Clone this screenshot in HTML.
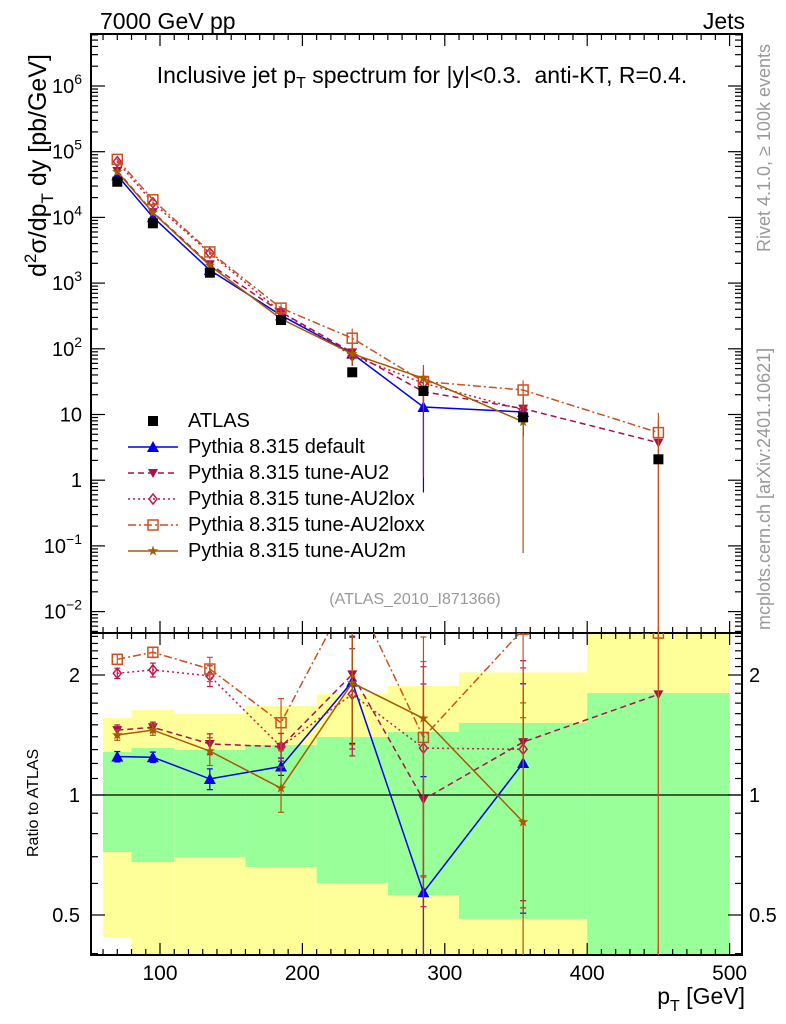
<!DOCTYPE html>
<html><head><meta charset="utf-8">
<style>
html,body{margin:0;padding:0;background:#fff;overflow:hidden;width:786px;height:1024px;}
svg{display:block;font-family:"Liberation Sans",sans-serif;overflow:hidden;}
</style></head>
<body>
<svg id="chart" width="786" height="1024" viewBox="0 0 786 1024" xmlns="http://www.w3.org/2000/svg">
<defs>
<clipPath id="clipU"><rect x="91" y="34" width="651" height="599"/></clipPath>
<clipPath id="clipL"><rect x="91" y="633" width="651" height="322"/></clipPath>
</defs>
<g id="bands" clip-path="url(#clipL)"></g>
<g id="axes"></g>
<g id="seriesU" clip-path="url(#clipU)"></g>
<g id="seriesL" clip-path="url(#clipL)"></g>
<g id="texts">
<text x="100" y="29" font-size="23">7000 GeV pp</text>
<text x="745" y="29" font-size="23" text-anchor="end">Jets</text>
<text x="422" y="83" font-size="23" text-anchor="middle" xml:space="preserve">Inclusive jet p<tspan font-size="16" dy="5">T</tspan><tspan dy="-5"> spectrum for |y|&lt;0.3.  anti-KT, R=0.4.</tspan></text>
<text x="415" y="604" font-size="16" fill="#999" text-anchor="middle">(ATLAS_2010_I871366)</text>
<text transform="translate(770,252) rotate(-90)" font-size="18" fill="#999">Rivet 4.1.0, ≥ 100k events</text>
<text transform="translate(770,630) rotate(-90)" font-size="18" fill="#999">mcplots.cern.ch [arXiv:2401.10621]</text>
<text transform="translate(46,277) rotate(-90)" font-size="25">d<tspan font-size="17" dy="-10">2</tspan><tspan dy="10">σ/dp</tspan><tspan font-size="17" dy="7">T</tspan><tspan dy="-7"> dy [pb/GeV]</tspan></text>
<text transform="translate(38,857) rotate(-90)" font-size="16">Ratio to ATLAS</text>
<text x="745" y="1004" font-size="23" text-anchor="end">p<tspan font-size="16" dy="7">T</tspan><tspan dy="-7"> [GeV]</tspan></text>
</g>
<g id="legend"></g>
</svg>
<script>
const xCenters = [70, 95, 135, 185, 235, 285, 355, 450];
const binEdges = [60, 80, 110, 160, 210, 260, 310, 400, 500];
const atlasData = [34900, 8130, 1440, 274, 43.9, 22.8, 9.06, 2.08];
const bandYellowHi = [1.561, 1.634, 1.597, 1.672, 1.791, 1.877, 2.03, 3.0];
const bandGreenHi = [1.282, 1.312, 1.297, 1.335, 1.398, 1.439, 1.516, 1.802];
const bandGreenLo = [0.719, 0.679, 0.699, 0.660, 0.601, 0.561, 0.489, 0.3];
const bandYellowLo = [0.440, 0.3, 0.3, 0.3, 0.3, 0.3, 0.3, 0.3];
const mcDefault = [43555, 10114, 1580, 323, 84.5, 13.0, 10.9];
const mcAU2 = [50780, 12024, 1934, 362, 88.1, 22.2, 12.3, 3.72];
const mcAU2lox = [70500, 16750, 2866, 362, 78.6, 29.9, 11.8];
const mcAU2loxx = [76430, 18540, 2981, 416, 145, 31.8, 23.6, 5.3];
const mcAU2m = [49350, 11830, 1856, 285, 83.9, 35.5, 7.75];
const errDefault = [0.03, 0.03, 0.06, 0.05, 0.3, 0.95, 0.58];
const errAU2 = [0.03, 0.03, 0.06, 0.08, 0.35, 0.95, 0.6, 1.2];
const errAU2lox = [0.03, 0.04, 0.06, 0.08, 0.3, 0.6, 0.6];
const errAU2loxx = [0.03, 0.03, 0.07, 0.15, 0.4, 0.55, 0.4, 1.0];
const errAU2m = [0.03, 0.03, 0.08, 0.13, 0.3, 0.6, 0.99];
const xTickLabels = ["100", "200", "300", "400", "500"];
const yTickExps = [-2, -1, 0, 1, 2, 3, 4, 5, 6];
const ratioTickLabels = ["0.5", "1", "2"];

const NS = "http://www.w3.org/2000/svg";
const L = 91, R = 742, TU = 34, BU = 633, TL = 633, BL = 955;
function xs(v){ return 160 + (v - 100) * 1.424; }
function yu(v){ return 86 + (6 - Math.log10(v)) * 65.7; }
function yr(r){ return 795 - Math.log10(r) * 398.6; }
function mk(tag, attrs, parent){ const e = document.createElementNS(NS, tag); for (const k in attrs) e.setAttribute(k, attrs[k]); parent.appendChild(e); return e; }

const axes = document.getElementById('axes');
const bandsG = document.getElementById('bands');
for (let i = 0; i < bandYellowHi.length; i++) {
  const x0 = xs(binEdges[i]), x1 = xs(binEdges[i+1]);
  const yb = mk('rect', {x:x0, y:yr(bandYellowHi[i]), width:x1-x0, height:yr(bandYellowLo[i])-yr(bandYellowHi[i]), fill:'#ffff99'}, bandsG);
  
  
  const gb = mk('rect', {x:x0, y:yr(bandGreenHi[i]), width:x1-x0, height:yr(bandGreenLo[i])-yr(bandGreenHi[i]), fill:'#99ff99'}, bandsG);
  
  
}
mk('rect', {x:L, y:TU, width:R-L, height:BU-TU, fill:'none', stroke:'#000', 'stroke-width':2}, axes);
mk('rect', {x:L, y:TL, width:R-L, height:BL-TL, fill:'none', stroke:'#000', 'stroke-width':2}, axes);
mk('line', {x1:L, x2:R, y1:yr(1), y2:yr(1), stroke:'#000', 'stroke-width':1.2}, axes);
for (let v = 60; v <= 500; v += 10) {
  const major = v % 100 === 0, len = major ? 12 : 6, x = xs(v);
  [[TU,1],[BU,-1],[TL,1],[BL,-1]].forEach(([y,d]) => mk('line', {x1:x, x2:x, y1:y, y2:y + d*len, stroke:'#000', 'stroke-width':1.2}, axes));
}
xTickLabels.forEach(t => {
  const e = mk('text', {x:xs(+t), y:980, 'font-size':21, 'text-anchor':'middle'}, axes);
  e.textContent = t;
  
  
});
for (let p = -3; p <= 6; p++) {
  for (let m = 1; m <= 9; m++) {
    const v = m * Math.pow(10, p), y = yu(v);
    if (y < TU || y > BU) continue;
    const len = m === 1 ? 14 : 7;
    mk('line', {x1:L, x2:L+len, y1:y, y2:y, stroke:'#000', 'stroke-width':1.2}, axes);
    mk('line', {x1:R, x2:R-len, y1:y, y2:y, stroke:'#000', 'stroke-width':1.2}, axes);
  }
}
yTickExps.forEach(p => {
  const y = yu(Math.pow(10, p)) + 7;
  const e = mk('text', {x:82, y:y, 'font-size':20, 'text-anchor':'end'}, axes);
  
  
  if (p === 0) e.textContent = '1';
  else if (p === 1) e.textContent = '10';
  else { e.innerHTML = '10<tspan font-size="14" dy="-9">' + (p < 0 ? '−' + (-p) : p) + '</tspan>'; }
});
for (let r = 0.4; r <= 2.55; r += 0.1) {
  const rr = Math.round(r*10)/10, y = yr(rr);
  if (y < TL || y > BL) continue;
  const major = (rr === 0.5 || rr === 1 || rr === 2);
  const len = major ? 14 : 7;
  mk('line', {x1:L, x2:L+len, y1:y, y2:y, stroke:'#000', 'stroke-width':1.2}, axes);
  mk('line', {x1:R, x2:R-len, y1:y, y2:y, stroke:'#000', 'stroke-width':1.2}, axes);
}
ratioTickLabels.forEach(t => {
  const y = yr(+t) + 7;
  const a = mk('text', {x:80, y:y, 'font-size':20, 'text-anchor':'end'}, axes); a.textContent = t;
  
  
  const b = mk('text', {x:749, y:y, 'font-size':20}, axes); b.textContent = t;
  
  
});

function marker(g, type, x, y, color){
  let e;
  if (type === 'square') e = mk('rect', {x:x-5, y:y-5, width:10, height:10, fill:'#000'}, g);
  else if (type === 'up') e = mk('polygon', {points:`${x},${y-6} ${x-6},${y+5} ${x+6},${y+5}`, fill:color}, g);
  else if (type === 'down') e = mk('polygon', {points:`${x},${y+5} ${x-5},${y-4} ${x+5},${y-4}`, fill:color}, g);
  else if (type === 'diamond') e = mk('polygon', {points:`${x},${y-5} ${x-4},${y} ${x},${y+5} ${x+4},${y}`, fill:'none', stroke:color, 'stroke-width':1.5}, g);
  else if (type === 'osquare') e = mk('rect', {x:x-5, y:y-5, width:10, height:10, fill:'none', stroke:color, 'stroke-width':1.5}, g);
  else if (type === 'star') {
    let pts = [];
    for (let k = 0; k < 10; k++) { const a = -Math.PI/2 + k*Math.PI/5, rr = k%2 ? 2.2 : 5.5; pts.push((x+rr*Math.cos(a)).toFixed(1)+','+(y+rr*Math.sin(a)).toFixed(1)); }
    e = mk('polygon', {points:pts.join(' '), fill:color}, g);
  }
  return e;
}
const series = [
  {name:'pythia-default', label:'Pythia 8.315 default', vals:mcDefault, err:errDefault, color:'#0000ee', dash:'', m:'up'},
  {name:'pythia-au2', label:'Pythia 8.315 tune-AU2', vals:mcAU2, err:errAU2, color:'#a8104e', dash:'6,4', m:'down'},
  {name:'pythia-au2lox', label:'Pythia 8.315 tune-AU2lox', vals:mcAU2lox, err:errAU2lox, color:'#c01a50', dash:'2,3', m:'diamond'},
  {name:'pythia-au2loxx', label:'Pythia 8.315 tune-AU2loxx', vals:mcAU2loxx, err:errAU2loxx, color:'#cc5020', dash:'8,3,2,3', m:'osquare'},
  {name:'pythia-au2m', label:'Pythia 8.315 tune-AU2m', vals:mcAU2m, err:errAU2m, color:'#a85a00', dash:'', m:'star'}
];
function clampY(y, top, bot){ return Math.max(top, Math.min(bot, y)); }
const gU = document.getElementById('seriesU'), gL = document.getElementById('seriesL');
series.forEach(s => {
  const su = mk('g', {}, gU);
  
  
  const sl = mk('g', {}, gL);
  
  
  const ptsU = s.vals.map((v,i) => xs(xCenters[i]).toFixed(1)+','+yu(v).toFixed(1)).join(' ');
  const ratios = s.vals.map((v,i) => v / atlasData[i]);
  const ptsL = ratios.map((r,i) => xs(xCenters[i]).toFixed(1)+','+yr(r).toFixed(1)).join(' ');
  const la = {fill:'none', stroke:s.color, 'stroke-width':1.5};
  if (s.dash) la['stroke-dasharray'] = s.dash;
  mk('polyline', Object.assign({points:ptsU}, la), su);
  mk('polyline', Object.assign({points:ptsL}, la), sl);
  s.vals.forEach((v,i) => {
    const x = xs(xCenters[i]);
    const hi = v*(1+s.err[i]), lo = Math.max(v*(1-s.err[i]), 1e-4);
    mk('line', {x1:x, x2:x, y1:clampY(yu(hi),TU,BU), y2:clampY(yu(lo),TU,BU), stroke:s.color, 'stroke-width':1.2}, su);
    const r = ratios[i], rh = r*(1+s.err[i]), rl = Math.max(r*(1-s.err[i]), 0.01);
    mk('line', {x1:x, x2:x, y1:clampY(yr(rh),TL,BL), y2:clampY(yr(rl),TL,BL), stroke:s.color, 'stroke-width':1.2}, sl);
    [yr(rh), yr(rl)].forEach(yy => { if (yy > TL && yy < BL) mk('line', {x1:x-3, x2:x+3, y1:yy, y2:yy, stroke:s.color, 'stroke-width':1.2}, sl); });
    const mu = marker(su, s.m, x, yu(v), s.color);
    
    
    const ml = marker(sl, s.m, x, yr(r), s.color);
    
    
  });
});
const gA = mk('g', {}, gU);


atlasData.forEach((v,i) => {
  const p = marker(gA, 'square', xs(xCenters[i]), yu(v), '#000');
  
  
});
const lg = document.getElementById('legend');
const entries = [{label:'ATLAS', m:'square', color:'#000', dash:null}].concat(series);
entries.forEach((s,i) => {
  const y = 421 + i*26;
  const g = mk('g', {}, lg);
  
  
  if (s.dash !== null) {
    const a = {x1:128, x2:178, y1:y, y2:y, stroke:s.color, 'stroke-width':1.5};
    if (s.dash) a['stroke-dasharray'] = s.dash;
    mk('line', a, g);
  }
  marker(g, s.m, 153, y, s.color);
  const t = mk('text', {x:188, y:y+6, 'font-size':20}, g);
  t.textContent = s.label;
});
</script>
</body></html>
